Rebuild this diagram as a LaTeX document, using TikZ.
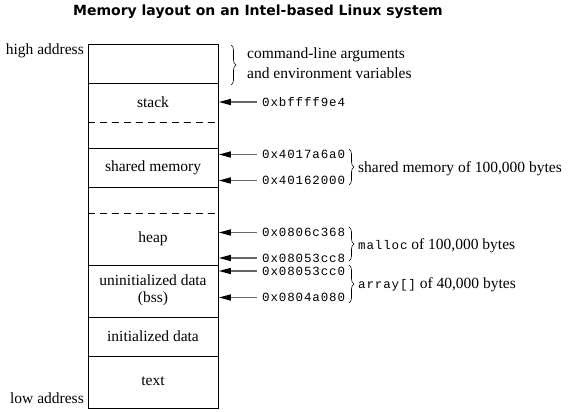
\documentclass[tikz,border=0pt]{standalone}
\usepackage{fontspec}
\setmainfont{Liberation Serif}
\setmonofont{Liberation Mono}[LetterSpace=7]
\newfontfamily\titlefont{DejaVu Sans}
\usetikzlibrary{arrows.meta,decorations.pathreplacing}
\newcommand{\monosz}{\fontsize{12.5}{15}\selectfont\ttfamily}
\newcommand{\serifsz}{\fontsize{15.5}{17}\selectfont\rmfamily}
\begin{document}
\begin{tikzpicture}[x=1pt,y=-1pt,
  lbl/.style={font=\serifsz, inner sep=0pt},
  addr/.style={font=\monosz, anchor=west, inner sep=0pt},
  arr/.style={draw=black!60, line width=1.5pt, -{Triangle[length=12pt,width=6pt,color=black]}},
  brc/.style={decorate, decoration={brace,amplitude=5pt}, line width=0.6pt},
  seg/.style={line width=0.8pt},
  dsh/.style={line width=0.8pt, dash pattern=on 7pt off 5pt},
]
\useasboundingbox (0,0) rectangle (570,412);
\node[font=\titlefont\bfseries\fontsize{14}{16}\selectfont] (title) at (258,12) {Memory layout on an Intel-based Linux system};

% memory column
\node[draw, seg, minimum width=130pt, minimum height=364pt, inner sep=0pt, anchor=north west] (mem) at (88,44) {};
\draw[seg] (88,83) -- (218,83);
\draw[dsh] (88,122) -- (218,122);
\draw[seg] (88,148) -- (218,148);
\draw[seg] (88,187) -- (218,187);
\draw[dsh] (88,213) -- (218,213);
\draw[seg] (88,265) -- (218,265);
\draw[seg] (88,317) -- (218,317);
\draw[seg] (88,356) -- (218,356);

\node[lbl] (stack) at (153,102) {stack};
\node[lbl] (shm) at (153,168) {shared memory};
\node[lbl] (heap) at (153,239) {heap};
\node[lbl, align=center] (bss) at (153,290) {uninitialized data\\(bss)};
\node[lbl] (init) at (153,336) {initialized data};
\node[lbl] (text) at (153,381) {text};

\node[lbl, anchor=base east] (high) at (84,55) {high address};
\node[lbl, anchor=base east] (low) at (84,403) {low address};

% command-line brace
\coordinate (cb1) at (231,45);
\coordinate (cb2) at (231,85);
\draw[brc] (cb1) -- (cb2);
\node[lbl, anchor=west, align=left, font=\fontsize{15.5}{20}\selectfont] (cmd) at (247,63) {command-line arguments\\and environment variables};

% addresses
\node[addr] (a1) at (262,102) {0xbffff9e4};
\node[addr] (a2) at (262,154.5) {0x4017a6a0};
\node[addr] (a3) at (262,180.5) {0x40162000};
\node[addr] (a4) at (262,232.5) {0x0806c368};
\node[addr] (a5) at (262,258) {0x08053cc8};
\node[addr] (a6) at (262,271) {0x08053cc0};
\node[addr] (a7) at (262,297.5) {0x0804a080};

\foreach \n in {a1,a2,a3,a4,a5,a6,a7}
  \draw[arr] ([xshift=-5pt]\n.west) -- (\n.west -| mem.east);

% braces with labels
\coordinate (sb1) at (349,149);
\coordinate (sb2) at (349,185);
\draw[brc] (sb1) -- (sb2);
\node[lbl, anchor=base west] (shl) at (358,172) {shared memory of 100,000 bytes};

\coordinate (hb1) at (349,227);
\coordinate (hb2) at (349,261);
\draw[brc] (hb1) -- (hb2);
\node[lbl, anchor=base west] (hl) at (358,249) {{\monosz malloc} of 100,000 bytes};

\coordinate (ab1) at (349,265);
\coordinate (ab2) at (349,303);
\draw[brc] (ab1) -- (ab2);
\node[lbl, anchor=base west] (al) at (358,288.5) {{\monosz array[]} of 40,000 bytes};
\end{tikzpicture}
\end{document}
